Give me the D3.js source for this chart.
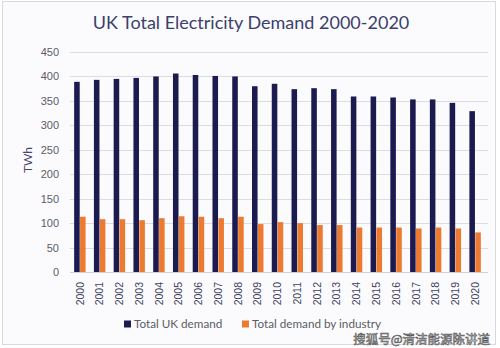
<!DOCTYPE html>
<html>
<head>
<meta charset="utf-8">
<script src="https://cdn.jsdelivr.net/npm/d3@7"></script>
<style>
  html, body { margin: 0; padding: 0; background: #fff; }
  svg { display: block; font-family: Lato, "Noto Sans", sans-serif; }
</style>
</head>
<body>
<svg id="chart" width="500" height="348"></svg>
<script>
// data
const YEARS = ["2000","2001","2002","2003","2004","2005","2006","2007","2008","2009","2010",
               "2011","2012","2013","2014","2015","2016","2017","2018","2019","2020"];
const TOTAL_UK = [389, 393, 395, 397, 400, 406, 403, 401, 400, 380, 385,
                  374, 376, 374, 359, 359, 357, 353, 353, 346, 329];
const INDUSTRY = [113, 108, 108, 106, 110, 114, 113, 110, 113, 98, 102,
                  100, 96, 96, 91, 91, 91, 89, 91, 89, 81];
const SERIES = ["Total UK demand", "Total demand by industry"];
const Y_TICKS = [0, 50, 100, 150, 200, 250, 300, 350, 400, 450];

const COLORS = ["#1c1b50", "#ec7a30"];
const MARGIN = { left: 70, right: 15, top: 52, bottom: 76 };
const W = 500, H = 348;

const svg = d3.select("#chart");

// frame
svg.append("rect")
  .attr("x", 2.5).attr("y", 1.5)
  .attr("width", 493).attr("height", 343)
  .attr("fill", "#fbfbfd")
  .attr("stroke", "#d8d9de");

const table = YEARS.map((y, i) => ({ year: y, values: [TOTAL_UK[i], INDUSTRY[i]] }));

const x = d3.scaleBand().domain(YEARS).range([MARGIN.left, W - MARGIN.right]).paddingInner(0.42).paddingOuter(0.21);
const xs = d3.scaleBand().domain([0, 1]).range([0, x.bandwidth()]).paddingInner(0.06);
const y = d3.scaleLinear().domain([0, 450]).range([H - MARGIN.bottom, MARGIN.top]);

// gridlines
svg.append("g")
  .selectAll("line")
  .data(Y_TICKS)
  .join("line")
  .attr("x1", MARGIN.left).attr("x2", 488)
  .attr("y1", d => Math.round(y(d)) + 0.5).attr("y2", d => Math.round(y(d)) + 0.5)
  .attr("stroke", d => d === 0 ? "#cfd0d6" : "#dcdde2");

// y axis labels
const yAxis = svg.append("g")
  .attr("transform", `translate(${MARGIN.left},0)`)
  .call(d3.axisLeft(y).tickValues(Y_TICKS).tickSize(0).tickPadding(11));
yAxis.select(".domain").remove();
yAxis.selectAll("text").attr("fill", "#5a5b66").attr("font-size", 11);

// bars
const groups = svg.append("g")
  .selectAll("g")
  .data(table)
  .join("g")
  .attr("transform", d => `translate(${x(d.year)},0)`);

groups.selectAll("rect")
  .data(d => d.values)
  .join("rect")
  .attr("x", (d, i) => xs(i))
  .attr("width", xs.bandwidth())
  .attr("y", d => y(d))
  .attr("height", d => y(0) - y(d))
  .attr("fill", (d, i) => COLORS[i]);

// x axis labels, rotated
const xAxis = svg.append("g")
  .attr("transform", `translate(0,${y(0)})`)
  .call(d3.axisBottom(x).tickSize(0).tickPadding(0));
xAxis.select(".domain").remove();
xAxis.selectAll("text")
  .attr("fill", "#40415e")
  .attr("font-size", 10.5)
  .attr("text-anchor", "end")
  .attr("dy", "0.35em")
  .attr("transform", "translate(0,10) rotate(-90)");

// title
svg.append("text")
  .attr("x", 251).attr("y", 29)
  .attr("text-anchor", "middle")
  .attr("font-size", 18)
  .attr("fill", "#3d3f6c")
  .text("UK Total Electricity Demand 2000-2020");

// y title
svg.append("text")
  .attr("transform", "translate(32,160) rotate(-90)")
  .attr("text-anchor", "middle")
  .attr("font-size", 12)
  .attr("fill", "#45476e")
  .text("TWh");

// legend
const LEGEND_X = [124, 242];
const legend = svg.append("g")
  .selectAll("g")
  .data(SERIES)
  .join("g")
  .attr("transform", (d, i) => `translate(${LEGEND_X[i]},324)`);
legend.append("rect")
  .attr("x", 0).attr("y", -3.5)
  .attr("width", 7).attr("height", 7)
  .attr("fill", (d, i) => COLORS[i]);
legend.append("text")
  .attr("x", 10).attr("dy", "0.35em")
  .attr("font-size", 11.7)
  .attr("fill", "#5a5b66")
  .text(d => d);

// watermark
svg.append("text")
  .attr("x", 490).attr("y", 344)
  .attr("text-anchor", "end")
  .attr("font-family", "Noto Sans CJK SC")
  .attr("font-size", 12.5)
  .attr("fill", "#ffffff")
  .attr("stroke", "#555")
  .attr("stroke-width", 0.6)
  .text("搜狐号@清洁能源陈讲道");
</script>
</body>
</html>
